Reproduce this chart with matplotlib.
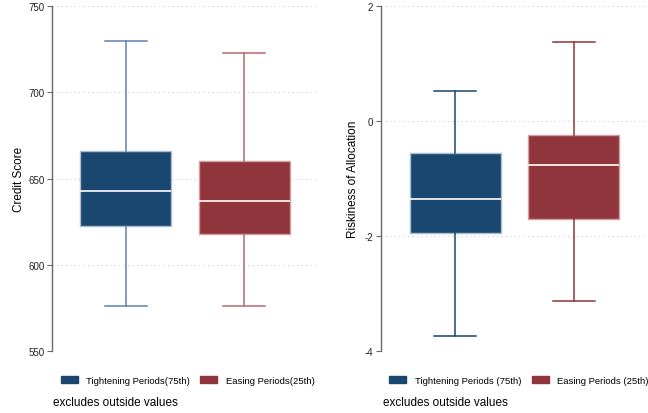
"""
Box plots of credit score and riskiness of allocation,
tightening vs easing periods (Stata-like style).
"""
import matplotlib
matplotlib.use("Agg")
import matplotlib.pyplot as plt
from matplotlib.patches import Patch

plt.rcParams["font.family"] = ["Liberation Sans", "DejaVu Sans"]
plt.rcParams["axes.unicode_minus"] = False

groups = ["Tightening", "Easing"]
colors = ["#1a476f", "#90353b"]
edge_colors = ["#a9bcd0", "#d39ea2"]
whisker_colors = ["#5d82a8", "#b56a70"]

# credit score: low whisker, q1, median, q3, high whisker
credit_low = [576, 576]
credit_q1 = [622.5, 617.5]
credit_med = [643, 637]
credit_q3 = [666, 660]
credit_high = [730, 723]

# riskiness of allocation
risk_low = [-3.75, -3.14]
risk_q1 = [-1.95, -1.71]
risk_med = [-1.36, -0.77]
risk_q3 = [-0.55, -0.25]
risk_high = [0.52, 1.38]

credit_ticks = [550, 600, 650, 700, 750]
risk_ticks = [-4, -2, 0, 2]

legend_left = ["Tightening Periods(75th)", "Easing Periods(25th)"]
legend_right = ["Tightening Periods (75th)", "Easing Periods (25th)"]


def make_stats(low, q1, med, q3, high):
    stats = []
    for i in range(len(low)):
        stats.append({"whislo": low[i], "q1": q1[i], "med": med[i],
                      "q3": q3[i], "whishi": high[i], "fliers": []})
    return stats


def draw_panel(ax, stats, ticks, ylabel, wcols, pad):
    for i, st in enumerate(stats):
        ax.bxp([st], positions=[i + 1], widths=0.77, patch_artist=True,
               showfliers=False, showcaps=True,
               boxprops=dict(facecolor=colors[i], edgecolor=edge_colors[i],
                             linewidth=1.0),
               medianprops=dict(color="white", linewidth=1.2),
               whiskerprops=dict(color=wcols[i], linewidth=1.1),
               capprops=dict(color=wcols[i], linewidth=1.1),
               capwidths=0.35)
    ax.set_xlim(0.374, 2.626)
    ax.set_ylim(ticks[0], ticks[-1])
    ax.set_yticks(ticks)
    ax.set_xticks([])
    for s in ["top", "right", "bottom"]:
        ax.spines[s].set_visible(False)
    ax.spines["left"].set_color("#6a6a6a")
    ax.spines["left"].set_linewidth(1.0)
    ax.tick_params(axis="y", labelsize=7, length=3.5, color="#6a6a6a",
                   width=0.8, pad=2, labelcolor="#222222")
    ax.yaxis.grid(True, linestyle=(0, (1, 3)), color="#cccccc",
                  linewidth=0.8)
    ax.set_axisbelow(True)
    ax.set_ylabel(ylabel, fontsize=8.5, labelpad=pad)


fig = plt.figure(figsize=(6.48, 4.14), dpi=100)
ax1 = fig.add_axes([0.0802, 0.1505, 0.4105, 0.8318])
ax2 = fig.add_axes([0.588, 0.1505, 0.412, 0.8318])

draw_panel(ax1, make_stats(credit_low, credit_q1, credit_med, credit_q3,
                           credit_high),
           credit_ticks, "Credit Score", whisker_colors, 2)
draw_panel(ax2, make_stats(risk_low, risk_q1, risk_med, risk_q3, risk_high),
           risk_ticks, "Riskiness of Allocation", colors, 4)

for ax, labels, x0, tx in [(ax1, legend_left, 0.0935, 0.082),
                           (ax2, legend_right, 0.6005, 0.591)]:
    handles = [Patch(facecolor=colors[i], edgecolor=colors[i], label=labels[i])
               for i in range(2)]
    fig.legend(handles=handles, loc="center left",
               bbox_to_anchor=(x0, 0.079), ncol=2, frameon=False,
               fontsize=6.8, handlelength=1.8, handleheight=0.8,
               handletextpad=0.9, columnspacing=1.1, borderpad=0,
               borderaxespad=0)
    fig.text(tx, 0.027, "excludes outside values", fontsize=8.5,
             ha="left", va="center")

fig.savefig("out.png", dpi=100)
